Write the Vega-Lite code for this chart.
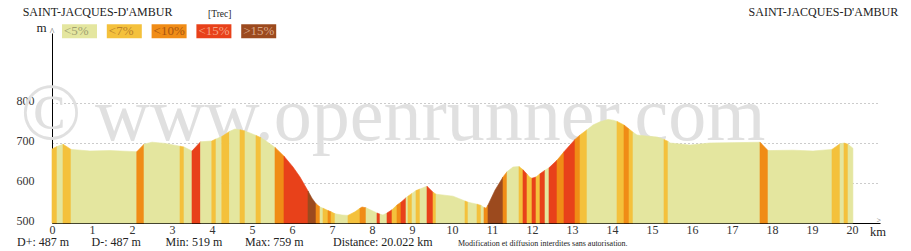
{
"$schema": "https://vega.github.io/schema/vega-lite/v6.json",
"width": 828, "height": 190,
"autosize": {"type": "none"},
"padding": {"left": 52, "top": 33, "right": 31, "bottom": 28},
"background": "white",
"config": {"view": {"stroke": null}, "font": "Liberation Serif"},
"layer": [
{"data": {"values": [{"t": "©"}]}, "mark": {"type": "text", "align": "center", "baseline": "alphabetic", "fontSize": 80, "font": "Liberation Serif", "color": "#e0e0e0"},
 "encoding": {"x": {"datum": -0.025, "type": "quantitative"}, "y": {"datum": 710, "type": "quantitative"}, "text": {"field": "t"}}},
{"data": {"values": [{"t": "www.openrunner.com"}]}, "mark": {"type": "text", "align": "left", "baseline": "alphabetic", "fontSize": 76, "font": "Liberation Serif", "color": "#e0e0e0"},
 "encoding": {"x": {"datum": 1.075, "type": "quantitative"}, "y": {"datum": 707.5, "type": "quantitative"}, "text": {"field": "t"}}},
{"data": {"values": [
{"s":1,"d":0,"e":685,"c":"<7%"},{"s":1,"d":0.125,"e":691,"c":"<7%"},
{"s":2,"d":0.125,"e":691,"c":"<5%"},{"s":2,"d":0.275,"e":697,"c":"<5%"},
{"s":3,"d":0.275,"e":697,"c":"<7%"},{"s":3,"d":0.475,"e":684,"c":"<7%"},
{"s":4,"d":0.475,"e":684,"c":"<5%"},{"s":4,"d":0.95,"e":680,"c":"<5%"},{"s":4,"d":1.45,"e":681,"c":"<5%"},{"s":4,"d":1.95,"e":679,"c":"<5%"},{"s":4,"d":2.118,"e":678,"c":"<5%"},
{"s":5,"d":2.118,"e":678,"c":"<10%"},{"s":5,"d":2.3,"e":697,"c":"<10%"},
{"s":6,"d":2.3,"e":697,"c":"<5%"},{"s":6,"d":2.5,"e":702,"c":"<5%"},{"s":6,"d":2.825,"e":699,"c":"<5%"},{"s":6,"d":3.2,"e":692,"c":"<5%"},
{"s":7,"d":3.2,"e":692,"c":"<7%"},{"s":7,"d":3.3,"e":690,"c":"<7%"},
{"s":8,"d":3.3,"e":690,"c":"<5%"},{"s":8,"d":3.5,"e":680,"c":"<5%"},
{"s":9,"d":3.5,"e":680,"c":"<15%"},{"s":9,"d":3.713,"e":703,"c":"<15%"},
{"s":10,"d":3.713,"e":703,"c":"<5%"},{"s":10,"d":3.993,"e":705,"c":"<5%"},
{"s":11,"d":3.993,"e":705,"c":"<7%"},{"s":11,"d":4.1,"e":710,"c":"<7%"},
{"s":12,"d":4.1,"e":710,"c":"<5%"},{"s":12,"d":4.243,"e":716,"c":"<5%"},
{"s":13,"d":4.243,"e":716,"c":"<7%"},{"s":13,"d":4.438,"e":729,"c":"<7%"},
{"s":14,"d":4.438,"e":729,"c":"<5%"},{"s":14,"d":4.575,"e":735,"c":"<5%"},{"s":14,"d":4.7,"e":733,"c":"<5%"},
{"s":15,"d":4.7,"e":733,"c":"<7%"},{"s":15,"d":4.825,"e":730,"c":"<7%"},
{"s":16,"d":4.825,"e":730,"c":"<5%"},{"s":16,"d":5.1,"e":719,"c":"<5%"},
{"s":17,"d":5.1,"e":719,"c":"<7%"},{"s":17,"d":5.225,"e":713,"c":"<7%"},
{"s":18,"d":5.225,"e":713,"c":"<5%"},{"s":18,"d":5.35,"e":705,"c":"<5%"},{"s":18,"d":5.575,"e":689,"c":"<5%"},
{"s":19,"d":5.575,"e":689,"c":"<10%"},{"s":19,"d":5.8,"e":667,"c":"<10%"},
{"s":20,"d":5.8,"e":667,"c":"<15%"},{"s":20,"d":6.025,"e":640,"c":"<15%"},{"s":20,"d":6.2,"e":615,"c":"<15%"},{"s":20,"d":6.4,"e":580,"c":"<15%"},
{"s":21,"d":6.4,"e":580,"c":">15%"},{"s":21,"d":6.5,"e":562,"c":">15%"},{"s":21,"d":6.6,"e":548,"c":">15%"},
{"s":22,"d":6.6,"e":548,"c":"<10%"},{"s":22,"d":6.7,"e":540,"c":"<10%"},
{"s":23,"d":6.7,"e":540,"c":"<5%"},{"s":23,"d":6.775,"e":537,"c":"<5%"},
{"s":24,"d":6.775,"e":537,"c":"<7%"},{"s":24,"d":6.9,"e":531,"c":"<7%"},
{"s":25,"d":6.9,"e":531,"c":"<10%"},{"s":25,"d":6.975,"e":528,"c":"<10%"},
{"s":26,"d":6.975,"e":528,"c":"<7%"},{"s":26,"d":7.075,"e":523,"c":"<7%"},
{"s":27,"d":7.075,"e":523,"c":"<5%"},{"s":27,"d":7.25,"e":520,"c":"<5%"},{"s":27,"d":7.4,"e":519,"c":"<5%"},
{"s":28,"d":7.4,"e":519,"c":"<7%"},{"s":28,"d":7.575,"e":528,"c":"<7%"},{"s":28,"d":7.7,"e":537,"c":"<7%"},
{"s":29,"d":7.7,"e":537,"c":"<10%"},{"s":29,"d":7.75,"e":540,"c":"<10%"},{"s":29,"d":7.85,"e":538,"c":"<10%"},
{"s":30,"d":7.85,"e":538,"c":"<5%"},{"s":30,"d":8.125,"e":525,"c":"<5%"},
{"s":31,"d":8.125,"e":525,"c":"<15%"},{"s":31,"d":8.2,"e":522,"c":"<15%"},
{"s":32,"d":8.2,"e":522,"c":"<5%"},{"s":32,"d":8.275,"e":520,"c":"<5%"},{"s":32,"d":8.375,"e":525,"c":"<5%"},
{"s":33,"d":8.375,"e":525,"c":"<15%"},{"s":33,"d":8.5,"e":533,"c":"<15%"},
{"s":34,"d":8.5,"e":533,"c":"<7%"},{"s":34,"d":8.625,"e":545,"c":"<7%"},
{"s":35,"d":8.625,"e":545,"c":"<10%"},{"s":35,"d":8.725,"e":552,"c":"<10%"},
{"s":36,"d":8.725,"e":552,"c":"<15%"},{"s":36,"d":8.85,"e":563,"c":"<15%"},
{"s":37,"d":8.85,"e":563,"c":"<5%"},{"s":37,"d":8.9,"e":567,"c":"<5%"},
{"s":38,"d":8.9,"e":567,"c":"<7%"},{"s":38,"d":9.0,"e":574,"c":"<7%"},
{"s":39,"d":9.0,"e":574,"c":"<5%"},{"s":39,"d":9.1,"e":581,"c":"<5%"},
{"s":40,"d":9.1,"e":581,"c":"<7%"},{"s":40,"d":9.2,"e":585,"c":"<7%"},
{"s":41,"d":9.2,"e":585,"c":"<5%"},{"s":41,"d":9.375,"e":592,"c":"<5%"},
{"s":42,"d":9.375,"e":592,"c":"<15%"},{"s":42,"d":9.525,"e":577,"c":"<15%"},
{"s":43,"d":9.525,"e":577,"c":"<7%"},{"s":43,"d":9.6,"e":572,"c":"<7%"},
{"s":44,"d":9.6,"e":572,"c":"<5%"},{"s":44,"d":10.025,"e":567,"c":"<5%"},{"s":44,"d":10.325,"e":555,"c":"<5%"},
{"s":45,"d":10.325,"e":555,"c":"<7%"},{"s":45,"d":10.4,"e":552,"c":"<7%"},
{"s":46,"d":10.4,"e":552,"c":"<5%"},{"s":46,"d":10.625,"e":547,"c":"<5%"},
{"s":47,"d":10.625,"e":547,"c":"<7%"},{"s":47,"d":10.725,"e":544,"c":"<7%"},
{"s":48,"d":10.725,"e":544,"c":"<5%"},{"s":48,"d":10.8,"e":539,"c":"<5%"},
{"s":49,"d":10.8,"e":539,"c":"<10%"},{"s":49,"d":10.85,"e":537,"c":"<10%"},{"s":49,"d":10.9,"e":545,"c":"<10%"},
{"s":50,"d":10.9,"e":545,"c":">15%"},{"s":50,"d":11.075,"e":582,"c":">15%"},{"s":50,"d":11.275,"e":615,"c":">15%"},
{"s":51,"d":11.275,"e":615,"c":"<10%"},{"s":51,"d":11.375,"e":628,"c":"<10%"},
{"s":52,"d":11.375,"e":628,"c":"<5%"},{"s":52,"d":11.525,"e":640,"c":"<5%"},{"s":52,"d":11.675,"e":641,"c":"<5%"},
{"s":53,"d":11.675,"e":641,"c":"<7%"},{"s":53,"d":11.775,"e":633,"c":"<7%"},
{"s":54,"d":11.775,"e":633,"c":"<15%"},{"s":54,"d":11.875,"e":622,"c":"<15%"},
{"s":55,"d":11.875,"e":622,"c":"<7%"},{"s":55,"d":11.95,"e":614,"c":"<7%"},{"s":55,"d":12.0,"e":612,"c":"<7%"},
{"s":56,"d":12.0,"e":612,"c":"<15%"},{"s":56,"d":12.1,"e":615,"c":"<15%"},
{"s":57,"d":12.1,"e":615,"c":"<7%"},{"s":57,"d":12.2,"e":623,"c":"<7%"},
{"s":58,"d":12.2,"e":623,"c":"<15%"},{"s":58,"d":12.325,"e":632,"c":"<15%"},
{"s":59,"d":12.325,"e":632,"c":"<5%"},{"s":59,"d":12.425,"e":638,"c":"<5%"},
{"s":60,"d":12.425,"e":638,"c":"<15%"},{"s":60,"d":12.625,"e":657,"c":"<15%"},
{"s":61,"d":12.625,"e":657,"c":"<10%"},{"s":61,"d":12.8,"e":678,"c":"<10%"},
{"s":62,"d":12.8,"e":678,"c":"<15%"},{"s":62,"d":13.075,"e":709,"c":"<15%"},
{"s":63,"d":13.075,"e":709,"c":"<10%"},{"s":63,"d":13.2,"e":720,"c":"<10%"},
{"s":64,"d":13.2,"e":720,"c":"<7%"},{"s":64,"d":13.375,"e":733,"c":"<7%"},
{"s":65,"d":13.375,"e":733,"c":"<5%"},{"s":65,"d":13.525,"e":745,"c":"<5%"},{"s":65,"d":13.7,"e":753,"c":"<5%"},{"s":65,"d":13.9,"e":759,"c":"<5%"},{"s":65,"d":14.025,"e":757,"c":"<5%"},{"s":65,"d":14.125,"e":754,"c":"<5%"},
{"s":66,"d":14.125,"e":754,"c":"<7%"},{"s":66,"d":14.3,"e":745,"c":"<7%"},
{"s":67,"d":14.3,"e":745,"c":"<10%"},{"s":67,"d":14.425,"e":735,"c":"<10%"},
{"s":68,"d":14.425,"e":735,"c":"<7%"},{"s":68,"d":14.525,"e":727,"c":"<7%"},
{"s":69,"d":14.525,"e":727,"c":"<5%"},{"s":69,"d":14.625,"e":720,"c":"<5%"},{"s":69,"d":14.9,"e":717,"c":"<5%"},{"s":69,"d":15.125,"e":715,"c":"<5%"},{"s":69,"d":15.3,"e":709,"c":"<5%"},
{"s":70,"d":15.3,"e":709,"c":"<7%"},{"s":70,"d":15.4,"e":704,"c":"<7%"},
{"s":71,"d":15.4,"e":704,"c":"<5%"},{"s":71,"d":15.45,"e":700,"c":"<5%"},{"s":71,"d":15.95,"e":695,"c":"<5%"},{"s":71,"d":16.45,"e":700,"c":"<5%"},{"s":71,"d":17.2,"e":701,"c":"<5%"},{"s":71,"d":17.7,"e":702,"c":"<5%"},
{"s":72,"d":17.7,"e":702,"c":"<10%"},{"s":72,"d":17.9,"e":681,"c":"<10%"},
{"s":73,"d":17.9,"e":681,"c":"<5%"},{"s":73,"d":18.525,"e":682,"c":"<5%"},{"s":73,"d":19.025,"e":680,"c":"<5%"},{"s":73,"d":19.5,"e":684,"c":"<5%"},
{"s":74,"d":19.5,"e":684,"c":"<7%"},{"s":74,"d":19.7,"e":698,"c":"<7%"},
{"s":75,"d":19.7,"e":698,"c":"<5%"},{"s":75,"d":19.8,"e":700,"c":"<5%"},
{"s":76,"d":19.8,"e":700,"c":"<7%"},{"s":76,"d":19.9,"e":697,"c":"<7%"},
{"s":77,"d":19.9,"e":697,"c":"<5%"},{"s":77,"d":20.022,"e":687,"c":"<5%"}
]},
 "mark": {"type": "area", "opacity": 1, "strokeWidth": 0.6},
 "encoding": {
  "x": {"field": "d", "type": "quantitative", "scale": {"domain": [0, 20.7], "nice": false, "zero": false},
        "axis": {"values": [0,1,2,3,4,5,6,7,8,9,10,11,12,13,14,15,16,17,18,19,20], "format": "d", "title": null, "ticks": false, "labelPadding": 1, "labelFont": "Liberation Serif", "labelFontSize": 12, "labelColor": "#333", "labelFlush": false, "labelOverlap": false, "domainColor": "#000", "domainWidth": 1, "grid": false}},
  "y": {"field": "e", "type": "quantitative", "stack": null, "scale": {"domain": [500, 975], "nice": false, "zero": false},
        "axis": {"values": [500, 600, 700, 800], "title": null, "ticks": false, "labelPadding": 18, "labelOffset": -3, "labelFont": "Liberation Serif", "labelFontSize": 12, "labelColor": "#333", "domainColor": "#000", "domainWidth": 1, "grid": true, "gridColor": "#999", "gridDash": [1, 3], "gridWidth": 1}},
  "y2": {"datum": 500},
  "detail": {"field": "s", "type": "nominal"},
  "color": {"field": "c", "type": "nominal",
    "scale": {"domain": ["<5%", "<7%", "<10%", "<15%", ">15%"], "range": ["#e4e69f", "#f4c13c", "#f08c16", "#e8411a", "#9c4a1e"]},
    "legend": {"orient": "none", "legendX": 10, "legendY": -19.5, "direction": "horizontal", "title": null, "symbolType": "M-1,-0.4H1V0.4H-1Z", "symbolSize": 1225, "symbolStrokeWidth": 0, "symbolOpacity": 1, "labelOffset": -33, "columnPadding": 9.8, "labelFont": "Liberation Serif", "labelFontSize": 13,
      "labelColor": {"expr": "datum.value === '<5%' ? '#a0a070' : datum.value === '<7%' ? '#b8802a' : datum.value === '<10%' ? '#a85510' : datum.value === '<15%' ? '#f6a585' : '#dba98a'"},
      "padding": 0, "gridAlign": "all"}},
  "stroke": {"field": "c", "type": "nominal", "legend": null,
    "scale": {"domain": ["<5%", "<7%", "<10%", "<15%", ">15%"], "range": ["#e4e69f", "#f4c13c", "#f08c16", "#e8411a", "#9c4a1e"]}}
 }},
{"data": {"values": [{"t": "SAINT-JACQUES-D'AMBUR"}]}, "mark": {"type": "text", "align": "left", "baseline": "alphabetic", "fontSize": 12, "font": "Liberation Serif", "color": "#222"},
 "encoding": {"x": {"datum": -0.733, "type": "quantitative"}, "y": {"datum": 1017.5, "type": "quantitative"}, "text": {"field": "t"}}},
{"data": {"values": [{"t": "[Trec]"}]}, "mark": {"type": "text", "align": "left", "baseline": "alphabetic", "fontSize": 9.5, "font": "Liberation Serif", "color": "#222"},
 "encoding": {"x": {"datum": 3.9, "type": "quantitative"}, "y": {"datum": 1016.25, "type": "quantitative"}, "text": {"field": "t"}}},
{"data": {"values": [{"t": "SAINT-JACQUES-D'AMBUR"}]}, "mark": {"type": "text", "align": "right", "baseline": "alphabetic", "fontSize": 12, "font": "Liberation Serif", "color": "#222"},
 "encoding": {"x": {"datum": 21.1575, "type": "quantitative"}, "y": {"datum": 1017.5, "type": "quantitative"}, "text": {"field": "t"}}},
{"data": {"values": [{"t": "m"}]}, "mark": {"type": "text", "align": "center", "baseline": "alphabetic", "fontSize": 13, "font": "Liberation Serif", "color": "#222"},
 "encoding": {"x": {"datum": -0.26, "type": "quantitative"}, "y": {"datum": 977.5, "type": "quantitative"}, "text": {"field": "t"}}},
{"data": {"values": [{"t": "^"}]}, "mark": {"type": "text", "align": "center", "baseline": "alphabetic", "fontSize": 10, "font": "Liberation Serif", "color": "#666"},
 "encoding": {"x": {"datum": 0, "type": "quantitative"}, "y": {"datum": 971, "type": "quantitative"}, "text": {"field": "t"}}},
{"data": {"values": [{"t": ">"}]}, "mark": {"type": "text", "align": "right", "baseline": "alphabetic", "fontSize": 8, "font": "Liberation Serif", "color": "#666"},
 "encoding": {"x": {"datum": 20.725, "type": "quantitative"}, "y": {"datum": 499, "type": "quantitative"}, "text": {"field": "t"}}},
{"data": {"values": [{"t": "km"}]}, "mark": {"type": "text", "align": "left", "baseline": "alphabetic", "fontSize": 12.5, "font": "Liberation Serif", "color": "#222"},
 "encoding": {"x": {"datum": 20.45, "type": "quantitative"}, "y": {"datum": 467.5, "type": "quantitative"}, "text": {"field": "t"}}},
{"data": {"values": [{"t": "D+: 487 m"}]}, "mark": {"type": "text", "align": "left", "baseline": "alphabetic", "fontSize": 12, "font": "Liberation Serif", "color": "#222"},
 "encoding": {"x": {"datum": -0.875, "type": "quantitative"}, "y": {"datum": 442.5, "type": "quantitative"}, "text": {"field": "t"}}},
{"data": {"values": [{"t": "D-: 487 m"}]}, "mark": {"type": "text", "align": "left", "baseline": "alphabetic", "fontSize": 12, "font": "Liberation Serif", "color": "#222"},
 "encoding": {"x": {"datum": 0.99, "type": "quantitative"}, "y": {"datum": 442.5, "type": "quantitative"}, "text": {"field": "t"}}},
{"data": {"values": [{"t": "Min: 519 m"}]}, "mark": {"type": "text", "align": "left", "baseline": "alphabetic", "fontSize": 12, "font": "Liberation Serif", "color": "#222"},
 "encoding": {"x": {"datum": 2.84, "type": "quantitative"}, "y": {"datum": 442.5, "type": "quantitative"}, "text": {"field": "t"}}},
{"data": {"values": [{"t": "Max: 759 m"}]}, "mark": {"type": "text", "align": "left", "baseline": "alphabetic", "fontSize": 12, "font": "Liberation Serif", "color": "#222"},
 "encoding": {"x": {"datum": 4.825, "type": "quantitative"}, "y": {"datum": 442.5, "type": "quantitative"}, "text": {"field": "t"}}},
{"data": {"values": [{"t": "Distance: 20.022 km"}]}, "mark": {"type": "text", "align": "left", "baseline": "alphabetic", "fontSize": 12, "font": "Liberation Serif", "color": "#222"},
 "encoding": {"x": {"datum": 7.025, "type": "quantitative"}, "y": {"datum": 442.5, "type": "quantitative"}, "text": {"field": "t"}}},
{"data": {"values": [{"t": "Modification et diffusion interdites sans autorisation."}]}, "mark": {"type": "text", "align": "left", "baseline": "alphabetic", "fontSize": 8, "font": "Liberation Serif", "color": "#222"},
 "encoding": {"x": {"datum": 10.15, "type": "quantitative"}, "y": {"datum": 442.5, "type": "quantitative"}, "text": {"field": "t"}}}
]
}
